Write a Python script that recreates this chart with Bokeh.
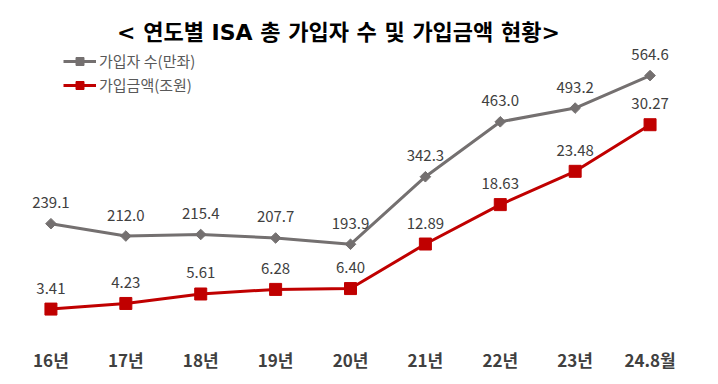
from bokeh.plotting import figure
from bokeh.models import (ColumnDataSource, FactorRange, Range1d, Legend, LegendItem,
                          Label)
from bokeh.core.properties import value
from bokeh.embed import file_html
from bokeh.resources import INLINE

categories = ["16년", "17년", "18년", "19년", "20년", "21년", "22년", "23년", "24.8월"]
subscribers = [239.1, 212.0, 215.4, 207.7, 193.9, 342.3, 463.0, 493.2, 564.6]
amounts = [3.41, 4.23, 5.61, 6.28, 6.40, 12.89, 18.63, 23.48, 30.27]
subscriber_labels = ["239.1", "212.0", "215.4", "207.7", "193.9", "342.3", "463.0", "493.2", "564.6"]
amount_labels = ["3.41", "4.23", "5.61", "6.28", "6.40", "12.89", "18.63", "23.48", "30.27"]

title_text = "< 연도별 ISA 총 가입자 수 및 가입금액 현황>"
legend_subs = "가입자 수(만좌)"
legend_amt = "가입금액(조원)"

FONT = "Noto Sans CJK KR"
GRAY = "#747070"
RED = "#C00000"
TXT = "#404040"

src = ColumnDataSource(dict(cat=categories, subs=subscribers, amt=amounts,
                            subs_lbl=subscriber_labels, amt_lbl=amount_labels))

p = figure(x_range=FactorRange(*categories), y_range=Range1d(0, 712),
           frame_width=674, frame_height=324,
           min_border_left=13, min_border_right=10, min_border_top=8, min_border_bottom=44,
           output_backend="svg", toolbar_location=None, tools="")
p.extra_y_ranges = {"amt": Range1d(0, 47.2)}

p.outline_line_color = None
p.grid.visible = False
p.yaxis.visible = False
p.xaxis.axis_line_color = None
p.xaxis.major_tick_line_color = None
p.xaxis.minor_tick_line_color = None
p.xaxis.major_tick_out = 0
p.xaxis.major_label_standoff = 14
p.xaxis.major_label_text_font = FONT
p.xaxis.major_label_text_font_size = "17px"
p.xaxis.major_label_text_font_style = "bold"
p.xaxis.major_label_text_color = TXT

# gray series
l1 = p.line("cat", "subs", source=src, line_color=GRAY, line_width=3)
m1 = p.scatter("cat", "subs", source=src, marker="square", angle=0.785398, size=7.5,
               fill_color=GRAY, line_color=GRAY)
p.text("cat", "subs", text="subs_lbl", source=src, text_align="center",
       text_baseline="middle", y_offset=-21, text_font=value(FONT),
       text_font_size="15px", text_color=TXT)

# red series
l2 = p.line("cat", "amt", source=src, line_color=RED, line_width=3, y_range_name="amt")
m2 = p.scatter("cat", "amt", source=src, marker="square", size=12,
               fill_color=RED, line_color=RED, y_range_name="amt")
p.text("cat", "amt", text="amt_lbl", source=src, text_align="center",
       text_baseline="middle", y_offset=-21, text_font=value(FONT),
       text_font_size="15px", text_color=TXT, y_range_name="amt")

legend = Legend(items=[LegendItem(label=legend_subs, renderers=[l1, m1]),
                       LegendItem(label=legend_amt, renderers=[l2, m2])],
                location=(50, 237), padding=0, margin=0, spacing=3,
                glyph_width=33, glyph_height=20, label_standoff=3,
                label_text_font=FONT, label_text_font_size="15px",
                label_text_color="#595959", border_line_color=None,
                background_fill_alpha=0)
p.add_layout(legend)

p.add_layout(Label(x=4.34, y=660, text=title_text, text_align="center",
                   text_baseline="middle", text_font="DejaVu Sans, Noto Sans CJK KR",
                   text_font_size="22px", text_font_style="bold", text_color="#000000"))

open("out.html", "w").write(file_html(p, INLINE))
